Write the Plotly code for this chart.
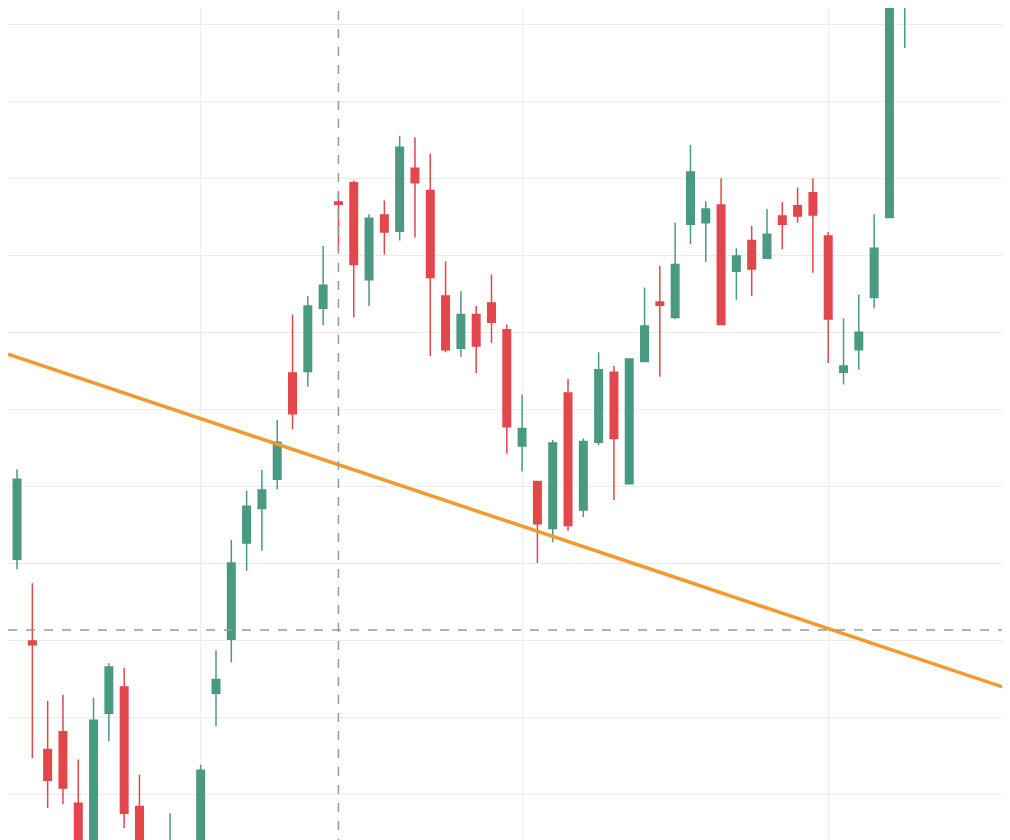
import plotly.graph_objects as go

# price bars, left to right
opens = [110.5, 99.9, 85.8, 88.1, 78.8, 71.7, 90.5, 93.9, 78.4, 69.1, 67.8, 69.1, 71.7, 93.1, 100.1,
         112.6, 117.1, 120.9, 134.7, 134.9, 143.1, 156.9, 159.4, 146.8, 155.2, 153.1, 161.3, 158.4, 144.7,
         137.9, 142.3, 143.8, 140.3, 125.2, 120.6, 114.5, 132.1, 116.9, 125.7, 134.8, 120.3, 136.2, 143.9,
         141.9, 154.0, 154.2, 156.5, 147.9, 151.9, 149.6, 155.1, 156.4, 158.1, 152.5, 134.8, 137.7, 144.5,
         154.9, 184.7]
highs = [122.2, 107.4, 92.1, 92.9, 84.5, 92.5, 97.0, 96.4, 82.5, 71.0, 77.5, 71.7, 83.8, 98.7, 113.0,
         119.4, 122.1, 128.6, 142.3, 144.7, 151.2, 158.1, 159.7, 155.3, 157.1, 165.5, 165.3, 163.2, 149.2,
         145.3, 143.4, 147.5, 141.0, 131.9, 120.6, 126.0, 133.9, 126.2, 137.4, 135.6, 136.6, 145.8, 148.6,
         154.2, 164.3, 157.0, 160.0, 150.9, 153.8, 156.0, 156.9, 158.8, 160.0, 153.0, 141.8, 144.9, 155.3,
         189.9, 192.2]
lows = [109.2, 84.7, 78.2, 78.7, 72.3, 70.4, 86.9, 75.6, 69.1, 65.2, 65.2, 67.8, 70.4, 88.8, 97.1,
        109.0, 111.6, 119.6, 127.4, 132.9, 140.9, 150.5, 141.9, 143.4, 150.1, 151.9, 152.3, 136.9, 137.4,
        136.8, 134.7, 138.6, 124.2, 121.9, 110.0, 112.7, 114.2, 116.0, 125.3, 118.2, 120.3, 136.1, 134.2,
        141.7, 151.4, 149.1, 141.0, 144.2, 144.7, 149.6, 150.8, 154.2, 147.7, 136.0, 133.2, 135.1, 143.1,
        154.9, 176.9]
closes = [120.9, 99.4, 81.8, 80.8, 73.8, 89.6, 96.5, 77.5, 71.0, 66.5, 71.7, 70.4, 83.1, 94.9, 110.0,
          117.4, 119.5, 125.7, 129.4, 143.4, 146.1, 156.6, 148.8, 154.8, 153.0, 164.0, 159.4, 147.1, 137.7,
          142.3, 138.2, 141.3, 127.7, 127.5, 115.1, 125.6, 114.9, 125.8, 135.1, 126.2, 136.5, 140.8, 143.5,
          148.8, 160.8, 156.0, 141.0, 149.9, 148.2, 152.7, 154.0, 155.1, 155.2, 141.7, 135.6, 140.0, 150.9,
          187.3, 191.0]
bars = list(range(len(opens)))

# trend line end points (bar index, price)
trend_x = [-0.59, 65.4]
trend_y = [137.14, 93.25]

cross_x = 21
cross_y = 101.3
time_grid = [12, 33, 53]

fig = go.Figure()
fig.add_trace(go.Candlestick(
    x=bars, open=opens, high=highs, low=lows, close=closes,
    increasing=dict(line=dict(color="#4a9a83", width=1.5), fillcolor="#4a9a83"),
    decreasing=dict(line=dict(color="#e2474c", width=1.5), fillcolor="#e2474c"),
    whiskerwidth=0, showlegend=False))
fig.add_trace(go.Scatter(x=trend_x, y=trend_y, mode="lines",
                         line=dict(color="#f09a30", width=3.5), showlegend=False))

fig.add_vline(x=cross_x, line=dict(color="#999", width=1.5, dash="dash"))
fig.add_hline(y=cross_y, line=dict(color="#999", width=1.5, dash="dash"))

fig.update_layout(
    width=1010, height=840, margin=dict(l=0, r=0, t=0, b=0),
    plot_bgcolor="white", paper_bgcolor="white",
    xaxis=dict(range=[-0.59, 65.4], tickvals=time_grid, showticklabels=False,
               gridcolor="#ececec", zeroline=False, rangeslider=dict(visible=False)),
    yaxis=dict(range=[73.0, 182.1], tick0=0, dtick=10, showticklabels=False,
               gridcolor="#ececec", zeroline=False),
)

fig.write_html("out.html")
